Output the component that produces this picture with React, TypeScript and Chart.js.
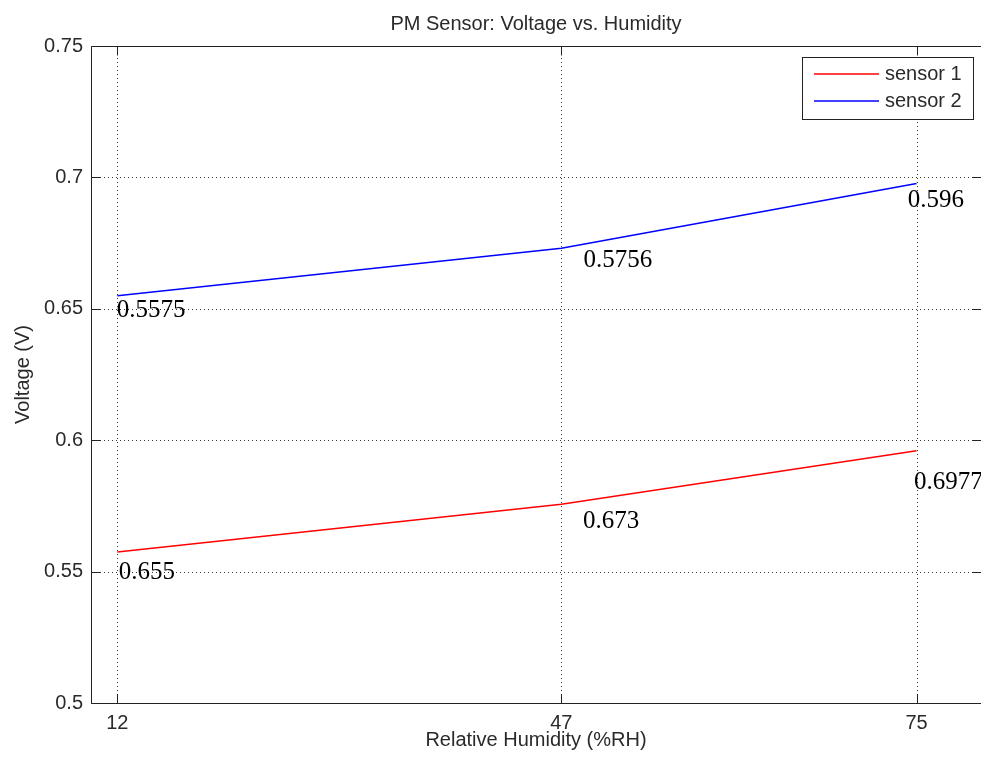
import React, { useEffect, useRef } from "react";
import { Chart, registerables } from "chart.js";

Chart.register(...registerables);

// ---- data ----
const xValues = [12, 47, 75];
const sensor1 = [0.5575, 0.5756, 0.596];
const sensor2 = [0.655, 0.673, 0.6977];
const seriesNames = ["sensor 1", "sensor 2"];
const xTickValues = [12, 47, 75];
const yTickValues = [0.5, 0.55, 0.6, 0.65, 0.7, 0.75];

// text annotations (as printed in the figure), anchored in data coordinates
const sensor1LabelText = ["0.655", "0.673", "0.6977"];
const sensor1LabelX = [12.1, 48.7, 74.8];
const sensor1LabelY = [0.5497, 0.5691, 0.584];
const sensor2LabelText = ["0.5575", "0.5756", "0.596"];
const sensor2LabelX = [11.95, 48.75, 74.3];
const sensor2LabelY = [0.6494, 0.6684, 0.6913];

const titleText = "PM Sensor: Voltage vs. Humidity";
const xTitle = "Relative Humidity (%RH)";
const yTitle = "Voltage (V)";

const SANS = "'Liberation Sans', Arial, Helvetica, sans-serif";
const SERIF = "'Liberation Serif', 'Times New Roman', serif";
const TEXT = "#2a2a2a";
const AXIS = "#222222";
const TICK_LEN = 9;

const decor = {
  id: "matlabDecor",
  beforeDatasetsDraw(chart: any) {
    const { ctx, chartArea } = chart;
    const { left, right, top, bottom } = chartArea;
    const xs = chart.scales.x;
    const ys = chart.scales.y;
    ctx.save();
    // dotted grid
    ctx.strokeStyle = "#333333";
    ctx.lineWidth = 1;
    ctx.setLineDash([1, 3]);
    xTickValues.forEach((v) => {
      const px = Math.round(xs.getPixelForValue(v)) + 0.5;
      ctx.beginPath();
      ctx.moveTo(px, bottom);
      ctx.lineTo(px, top);
      ctx.stroke();
    });
    yTickValues.forEach((v) => {
      const py = Math.round(ys.getPixelForValue(v)) + 0.5;
      ctx.beginPath();
      ctx.moveTo(left, py);
      ctx.lineTo(right + 2, py);
      ctx.stroke();
    });
    ctx.restore();
  },
  afterDatasetsDraw(chart: any) {
    const { ctx, chartArea } = chart;
    const { left, right, top, bottom } = chartArea;
    const xs = chart.scales.x;
    const ys = chart.scales.y;
    ctx.save();
    ctx.strokeStyle = AXIS;
    ctx.lineWidth = 1;
    ctx.setLineDash([]);
    const L = Math.round(left) - 0.5;
    const T = Math.round(top) + 0.5;
    const B = Math.round(bottom) + 0.5;
    // box: left, top, bottom
    ctx.beginPath();
    ctx.moveTo(L, T);
    ctx.lineTo(L, B);
    ctx.moveTo(L, B);
    ctx.lineTo(right + 2, B);
    ctx.moveTo(L, T);
    ctx.lineTo(right + 2, T);
    ctx.stroke();
    // inward ticks
    ctx.beginPath();
    xTickValues.forEach((v) => {
      const px = Math.round(xs.getPixelForValue(v)) + 0.5;
      ctx.moveTo(px, B);
      ctx.lineTo(px, B - TICK_LEN);
      ctx.moveTo(px, T);
      ctx.lineTo(px, T + TICK_LEN);
    });
    yTickValues.forEach((v) => {
      const py = Math.round(ys.getPixelForValue(v)) + 0.5;
      ctx.moveTo(L, py);
      ctx.lineTo(L + TICK_LEN, py);
      ctx.moveTo(right + 1, py);
      ctx.lineTo(right + 1 - TICK_LEN, py);
    });
    ctx.stroke();

    // text annotations
    ctx.fillStyle = "#000000";
    ctx.font = "25px " + SERIF;
    ctx.textAlign = "left";
    ctx.textBaseline = "middle";
    sensor1LabelText.forEach((t, i) => {
      ctx.fillText(t, xs.getPixelForValue(sensor1LabelX[i]), ys.getPixelForValue(sensor1LabelY[i]));
    });
    sensor2LabelText.forEach((t, i) => {
      ctx.fillText(t, xs.getPixelForValue(sensor2LabelX[i]), ys.getPixelForValue(sensor2LabelY[i]));
    });
    ctx.restore();
  },
  afterDraw(chart: any) {
    const { ctx, chartArea } = chart;
    const boxRight = chartArea.right - 7;
    const boxLeft = boxRight - 171;
    const boxTop = chartArea.top + 11;
    const boxH = 62;
    ctx.save();
    ctx.fillStyle = "#ffffff";
    ctx.fillRect(boxLeft, boxTop, boxRight - boxLeft, boxH);
    ctx.strokeStyle = AXIS;
    ctx.lineWidth = 1;
    ctx.strokeRect(Math.round(boxLeft) + 0.5, Math.round(boxTop) + 0.5, Math.round(boxRight - boxLeft), boxH);
    ctx.font = "20px " + SANS;
    ctx.textAlign = "left";
    ctx.textBaseline = "middle";
    chart.data.datasets.forEach((ds: any, i: number) => {
      const cy = boxTop + 17 + i * 27;
      ctx.strokeStyle = ds.borderColor;
      ctx.lineWidth = 1.5;
      ctx.beginPath();
      ctx.moveTo(boxLeft + 12, cy);
      ctx.lineTo(boxLeft + 77, cy);
      ctx.stroke();
      ctx.fillStyle = TEXT;
      ctx.fillText(ds.label, boxLeft + 83, cy);
    });
    ctx.restore();
  },
};

export default function App() {
  const ref = useRef<HTMLCanvasElement | null>(null);
  useEffect(() => {
    if (!ref.current) return;
    const font = { family: SANS, size: 20, weight: "normal" as const, lineHeight: 1.2 };
    const chart = new Chart(ref.current, {
      type: "line",
      data: {
        datasets: [
          {
            label: seriesNames[0],
            data: xValues.map((x, i) => ({ x, y: sensor1[i] })),
            borderColor: "#ff0000",
            backgroundColor: "#ff0000",
            borderWidth: 1.5,
            pointRadius: 0,
            tension: 0,
            fill: false,
          },
          {
            label: seriesNames[1],
            data: xValues.map((x, i) => ({ x, y: sensor2[i] })),
            borderColor: "#0000ff",
            backgroundColor: "#0000ff",
            borderWidth: 1.5,
            pointRadius: 0,
            tension: 0,
            fill: false,
          },
        ],
      },
      options: {
        responsive: false,
        animation: false,
        devicePixelRatio: 1,
        layout: { padding: { left: 0, right: 1, top: 0, bottom: 0 } },
        plugins: {
          legend: { display: false },
          tooltip: { enabled: false },
          title: {
            display: true,
            text: titleText,
            fullSize: false,
            color: TEXT,
            font,
            padding: { top: 12, bottom: 10 },
          },
        },
        scales: {
          x: {
            type: "linear",
            min: 10,
            max: 80,
            afterBuildTicks: (s: any) => {
              s.ticks = xTickValues.map((v) => ({ value: v }));
            },
            afterFit: (s: any) => {
              s.height = 55;
            },
            grid: { display: false, drawTicks: false },
            border: { display: false },
            ticks: {
              color: TEXT,
              font,
              padding: 8,
              maxRotation: 0,
              autoSkip: false,
              callback: (v: any) => String(v),
            },
            title: {
              display: true,
              text: xTitle,
              color: TEXT,
              font,
              padding: { top: 0, bottom: 6 },
            },
          },
          y: {
            type: "linear",
            min: 0.5,
            max: 0.75,
            afterBuildTicks: (s: any) => {
              s.ticks = yTickValues.map((v) => ({ value: v }));
            },
            afterFit: (s: any) => {
              s.width = 92;
            },
            grid: { display: false, drawTicks: false },
            border: { display: false },
            ticks: {
              color: TEXT,
              font,
              padding: 9,
              autoSkip: false,
              callback: (v: any) => String(Number(Number(v).toFixed(2))),
            },
            title: {
              display: true,
              text: yTitle,
              color: TEXT,
              font,
              padding: { top: 11, bottom: 0 },
            },
          },
        },
      },
      plugins: [decor],
    });
    return () => chart.destroy();
  }, []);

  return (
    <div
      style={{
        position: "fixed",
        left: 0,
        top: 0,
        width: 981,
        height: 758,
        background: "#ffffff",
        overflow: "hidden",
      }}
    >
      <canvas ref={ref} width={981} height={758} style={{ display: "block" }} />
    </div>
  );
}
